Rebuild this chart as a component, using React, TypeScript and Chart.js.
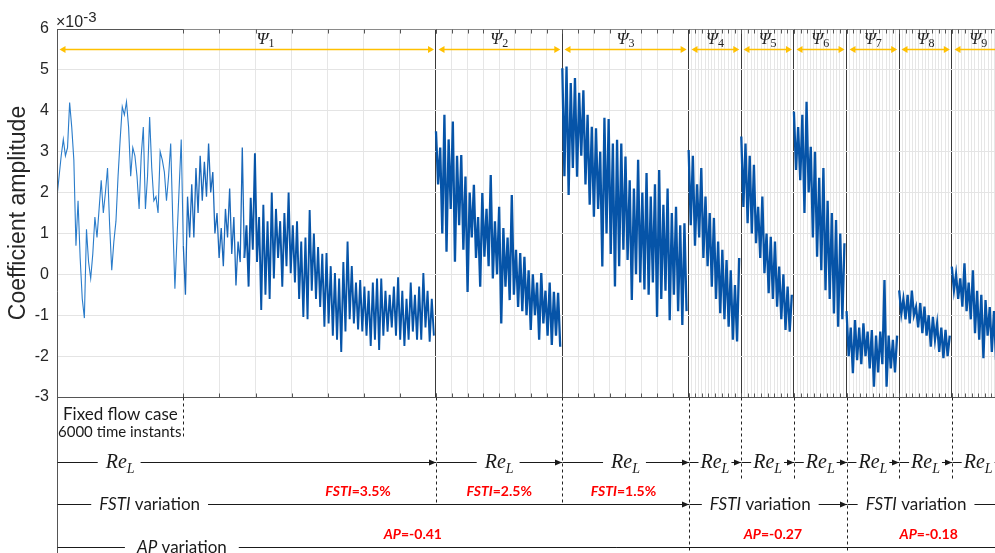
import React, { useEffect, useRef } from 'react';
import { Chart, registerables } from 'chart.js';
Chart.register(...registerables);

// ---------- data (time instants on x, coefficient ×10^-3 on y) ----------
const sampleStep = 100;
const xMax = 44550;
const yMin = -3;
const yMax = 6;

const segmentStarts = [0, 18000, 24000, 30000, 32500, 35000, 37500, 40000, 42500];
const segmentEnds = [18000, 24000, 30000, 32500, 35000, 37500, 40000, 42500, 45000];
const psiIndex = ['1', '2', '3', '4', '5', '6', '7', '8', '9'];
const psiLabelAt = [9900, 21000, 27000, 31250, 33750, 36250, 38750, 41250, 43750];
const fixedCaseEnd = 6000;

// Ψ1, fixed flow case (first 6000 instants)
const psi1a = [1.9, 2.4, 2.9, 3.3, 2.9, 3.1, 4.2, 3.6, 2.8, 0.7, 1.8, 0.4, -0.6, -1.07, 1.1, 0.3, -0.1, 0.5, 1.4, 0.9,
  1.6, 2.3, 1.5, 2.0, 2.6, 1.2, 0.1, 0.8, 1.3, 2.4, 3.3, 4.1, 3.9, 4.22, 3.6, 2.4, 3.1, 2.9, 2.4, 1.6,
  2.9, 3.6, 1.6, 2.4, 3.85, 2.6, 1.8, 1.9, 1.5, 3.0, 2.8, 2.5, 1.8, 2.4, 3.2, 1.3, -0.35, 0.9, 2.1, 3.3];
// Ψ1, varying Re_L part
const psi1b = [0.7, -0.5, 1.9, 0.9, 2.2, 0.9, 2.6, 1.5, 2.9, 1.8, 2.75, 1.9, 3.2, 2.0, 2.5, 1.0, 1.5, 0.4, 1.13, 0.2,
  1.6, 0.9, 2.1, 0.5, 1.4, -0.27, 0.8, 0.3, 3.1, 0.4, 1.2, -0.3, 1.87, 0.6, 2.96, 0.3, 1.4, -0.87, 1.7, -0.5,
  1.3, -0.6, 2.0, -0.1, 1.6, 0.4, 1.3, -0.3, 1.5, 0.2, 2.0, 0.03, 1.2, -0.2, 1.3, -0.6, 0.8, -1.04, 0.9, -1.1,
  1.57, -0.4, 1.0, -0.6, 0.67, -0.8, 0.5, -1.28, 0.52, -1.2, 0.2, -1.5, 0.03, -1.6, -0.1, -1.9, 0.3, -1.4, 0.8, -1.1,
  0.2, -1.2, -0.2, -1.35, -0.14, -1.4, -0.3, -1.5, -0.4, -1.75, -0.2, -1.6, -0.1, -1.85, -0.1, -1.5, -0.4, -1.4, -0.5, -1.3,
  -0.3, -1.5, -0.07, -1.6, -0.4, -1.75, -0.6, -1.6, -0.2, -1.4, -0.5, -1.6, -0.3, -1.6, 0.03, -1.3, -0.4, -1.65, -0.6, -1.5];
const psi2 = [3.5, 2.2, 3.1, 1.0, 3.9, 0.55, 3.3, 1.6, 3.74, 0.31, 2.9, 1.2, 2.92, 0.6, 2.39, -0.43, 2.0, 0.9, 2.19, 0.4,
  1.4, -0.3, 1.99, 0.43, 1.6, 0.2, 2.43, -0.1, 1.3, 0.0, 1.65, -1.2, 1.13, -0.3, 0.9, -0.63, 1.94, -0.5, 0.6, -0.8,
  0.52, -0.9, 0.43, -1.0, 0.1, -1.36, 0.0, -1.0, -0.2, -1.6, 0.03, -1.2, -0.4, -1.5, -0.2, -1.73, -0.43, -1.5, -0.45, -1.77];
const psi3 = [5.04, 2.4, 5.08, 1.94, 4.68, 2.6, 4.8, 2.39, 4.44, 2.9, 4.5, 2.2, 3.9, 1.7, 3.61, 1.41, 3.57, 1.6, 3.0, 0.19,
  3.83, 1.0, 3.8, 0.5, 3.2, -0.3, 3.29, 0.2, 3.2, 0.6, 2.88, 0.35, 2.3, -0.63, 2.1, 0.0, 2.8, -0.2, 2.0, -0.37,
  2.48, -0.5, 1.9, -0.2, 2.2, -1.04, 2.55, -0.6, 1.7, -0.4, 2.1, -1.12, 1.5, -0.5, 1.65, -0.9, 1.2, -1.24, 1.25, -0.9];
const psi4 = [3.04, 1.2, 2.9, 0.7, 2.2, 0.9, 2.6, 0.4, 1.9, 0.2, 1.5, -0.3, 1.38, -0.6, 0.8, -0.95, 0.6, -1.1, 0.35, -1.28, 0.1, -1.6, -0.26, -1.64, 0.4];
const psi5 = [3.37, 1.65, 3.2, 1.25, 2.9, 1.0, 2.68, 0.76, 1.65, 0.4, 1.9, 0.03, 1.0, -0.46, 0.92, -0.6, 0.8, -0.79, 0.19, -1.1, 0.0, -1.36, -0.3, -1.4, -0.5];
const psi6 = [3.98, 2.55, 3.6, 2.3, 3.9, 1.5, 4.22, 2.0, 3.12, 0.9, 3.0, 0.43, 2.36, 0.1, 2.6, -0.39, 1.8, -0.6, 1.5, -0.96, 1.33, -1.28, 1.0, -1.1, 0.76];
const psi7 = [-0.9, -2.0, -1.3, -2.42, -1.12, -2.1, -1.3, -2.2, -1.2, -2.0, -1.4, -2.3, -1.36, -2.75, -1.5, -2.4, -1.4, -2.2, -0.14, -2.75, -1.5, -2.3, -1.6, -2.4, -1.5];
const psi8 = [-0.39, -0.96, -0.6, -1.1, -0.5, -1.2, -0.4, -1.0, -0.8, -1.3, -0.7, -1.44, -0.79, -1.5, -1.0, -1.77, -1.04, -1.6, -1.2, -1.9, -1.3, -2.05, -1.36, -2.0, -1.5];
const psi9 = [0.19, -0.39, 0.0, -0.6, -0.1, -0.79, 0.27, -0.9, -0.2, -1.1, 0.1, -1.44, -0.4, -1.6, -0.5, -2.05, -0.63, -1.5, -0.8, -1.9, -0.9, -2.1];

// each series piece: values and the time instant of its first sample
const psi1bSparseCount = 30;
const seriesValues = [
  psi1a.concat(psi1b.slice(0, 1)),
  psi1b.slice(0, psi1bSparseCount),
  psi1b.slice(psi1bSparseCount - 1),
  psi2, psi3, psi4, psi5, psi6, psi7, psi8, psi9,
];
const seriesStarts = [0, fixedCaseEnd, fixedCaseEnd + (psi1bSparseCount - 1) * sampleStep, 18000, 24000, 30000, 32500, 35000, 37500, 40000, 42500];

// bottom annotation content
const reLCenters = [3000, 21000, 27000, 31250, 33750, 36250, 38750, 41250, 43750];
const fstiSpans = [[0, 30000], [30000, 37500], [37500, 45000]];
const fstiTextAt = [4400, 33400, 40800];
const fstiValues = ['3.5%', '2.5%', '1.5%'];
const fstiValueAt = [14300, 21000, 26900];
const apValues = ['-0.41', '-0.27', '-0.18'];
const apValueAt = [16900, 34000, 41400];
const apTextAt = [5930];

// grid / tick positions (segment subdivisions)
function subdivisions(a: number, b: number, n: number) {
  const out: number[] = [];
  for (let k = 0; k <= n; k++) out.push(a + ((b - a) * k) / n);
  return out;
}
const majorTickValues: number[] = [
  ...subdivisions(fixedCaseEnd, 18000, 7),
  ...subdivisions(18000, 24000, 8),
  ...subdivisions(24000, 30000, 8),
  ...segmentStarts.slice(3).flatMap((s, i) => subdivisions(s, segmentEnds[i + 3], 8)),
];
const gridValues: number[] = [
  0,
  ...subdivisions(fixedCaseEnd, 18000, 7),
  ...subdivisions(18000, 24000, 8),
  ...subdivisions(24000, 30000, 8),
  ...segmentStarts.slice(3).flatMap((s, i) => subdivisions(s, segmentEnds[i + 3], 16)),
].filter((v, i, arr) => v <= xMax && arr.indexOf(v) === i).sort((a, b) => a - b);
const boundarySet = new Set(segmentStarts.slice(1));

const LINE_COLOR = '#0654a8';
const THIN_COLOR = '#2a7cca';
const AXIS_COLOR = '#262626';
const SERIF = '"Liberation Serif", "DejaVu Serif", serif';
const SANS = 'Lato, "Open Sans", sans-serif';
const ARIAL = '"Liberation Sans", Arial, sans-serif';

type Run = { t: string; f: string; dy?: number };
function runsWidth(ctx: CanvasRenderingContext2D, runs: Run[]) {
  let w = 0;
  for (const r of runs) { ctx.font = r.f; w += ctx.measureText(r.t).width; }
  return w;
}
function drawRuns(ctx: CanvasRenderingContext2D, runs: Run[], left: number, baseline: number) {
  let x = left;
  for (const r of runs) {
    ctx.font = r.f;
    ctx.fillText(r.t, x, baseline + (r.dy || 0));
    x += ctx.measureText(r.t).width;
  }
}
function hline(ctx: CanvasRenderingContext2D, x1: number, x2: number, y: number) {
  ctx.beginPath(); ctx.moveTo(x1, y); ctx.lineTo(x2, y); ctx.stroke();
}
function vline(ctx: CanvasRenderingContext2D, x: number, y1: number, y2: number) {
  ctx.beginPath(); ctx.moveTo(x, y1); ctx.lineTo(x, y2); ctx.stroke();
}
function head(ctx: CanvasRenderingContext2D, x: number, y: number, dir: number, len: number, half: number) {
  ctx.beginPath(); ctx.moveTo(x, y); ctx.lineTo(x - dir * len, y - half); ctx.lineTo(x - dir * len, y + half); ctx.closePath(); ctx.fill();
}

const annotationPlugin = {
  id: 'annotations',
  afterDraw(chart: any) {
    const ctx: CanvasRenderingContext2D = chart.ctx;
    const xs = chart.scales.x;
    const area = chart.chartArea;
    const H = chart.height;
    const px = (v: number) => Math.round(xs.getPixelForValue(v)) + 0.5;
    const right = area.right;
    const top = Math.round(area.top) + 0.5;
    const bot = Math.round(area.bottom) + 0.5;
    ctx.save();
    ctx.lineWidth = 1;

    // frame
    ctx.strokeStyle = '#8a8a8a';
    hline(ctx, area.left, right, top);
    ctx.strokeStyle = '#555';
    hline(ctx, area.left, px(fixedCaseEnd), top);
    hline(ctx, area.left, right, bot);
    vline(ctx, px(0), top, H);
    // tick marks (inside)
    ctx.strokeStyle = '#555';
    for (const v of majorTickValues) {
      if (v > xMax) continue;
      const x = px(v);
      vline(ctx, x, top, top + 4);
      vline(ctx, x, bot, bot - 4);
    }

    // yellow double arrows + Ψ labels
    ctx.strokeStyle = '#ffc000';
    ctx.fillStyle = '#ffc000';
    ctx.lineWidth = 1.5;
    const ay = 49.5;
    segmentStarts.forEach((s, i) => {
      const x1 = px(s) + 2;
      const xe = xs.getPixelForValue(segmentEnds[i]);
      const x2 = Math.min(xe - 2, right);
      hline(ctx, x1 + 4, x2 - (xe <= right ? 4 : 0), ay);
      head(ctx, x1, ay, -1, 6, 3.5);
      if (xe <= right) head(ctx, x2, ay, 1, 6, 3.5);
    });
    ctx.fillStyle = '#222';
    segmentStarts.forEach((_, i) => {
      const runs: Run[] = [{ t: 'Ψ', f: `italic 17px ${SERIF}` }, { t: psiIndex[i], f: `12px ${SERIF}`, dy: 3 }];
      const w = runsWidth(ctx, runs);
      drawRuns(ctx, runs, xs.getPixelForValue(psiLabelAt[i]) - w / 2, 44);
    });

    // exponent label
    ctx.fillStyle = AXIS_COLOR;
    drawRuns(ctx, [{ t: '×10', f: `16px ${ARIAL}` }, { t: '-3', f: `15px ${ARIAL}`, dy: -5 }], area.left - 1, 27);

    // ----- bottom annotations -----
    ctx.lineWidth = 1;
    ctx.strokeStyle = '#222';
    ctx.setLineDash([3, 3]);
    vline(ctx, px(fixedCaseEnd), bot, 438);
    [18000, 24000].forEach((v) => vline(ctx, px(v), bot, 505));
    [30000, 37500].forEach((v) => vline(ctx, px(v), bot, H));
    [32500, 35000, 40000, 42500].forEach((v) => vline(ctx, px(v), bot, 481));
    ctx.setLineDash([]);

    ctx.fillStyle = '#1a1a1a';
    ctx.font = `17px ${SANS}`;
    ctx.fillText('Fixed flow case', area.left + 6, 420);
    ctx.font = `15px ${SANS}`;
    ctx.fillText('6000 time instants', area.left + 1, 437);

    // Re_L row
    ctx.strokeStyle = '#1a1a1a';
    ctx.fillStyle = '#1a1a1a';
    const ry = 462.5;
    const reRuns: Run[] = [{ t: 'Re', f: `italic 20px ${SERIF}` }, { t: 'L', f: `italic 14px ${SERIF}`, dy: 5 }];
    segmentStarts.forEach((s, i) => {
      const x1 = px(s);
      const xe = xs.getPixelForValue(segmentEnds[i]);
      const x2 = Math.min(Math.round(xe), right);
      const w = runsWidth(ctx, reRuns);
      const c = xs.getPixelForValue(reLCenters[i]);
      const gl = i < 3 ? 8 : 2;
      const gr = i < 3 ? 6 : 2;
      hline(ctx, x1, c - w / 2 - gl, ry);
      drawRuns(ctx, reRuns, c - w / 2, 468);
      hline(ctx, c + w / 2 + gr, x2, ry);
      if (xe <= right) head(ctx, x2, ry, 1, 7, 3);
    });

    // FSTI row
    const fy = 504.5;
    const fRuns: Run[] = [{ t: 'FSTI', f: `italic 17px ${SANS}` }, { t: ' variation', f: `17px ${SANS}` }];
    fstiSpans.forEach(([a, b], i) => {
      const x1 = px(a);
      const xe = xs.getPixelForValue(b);
      const x2 = Math.min(Math.round(xe), right);
      const w = runsWidth(ctx, fRuns);
      const c = xs.getPixelForValue(fstiTextAt[i]);
      hline(ctx, x1, c - w / 2 - 8, fy);
      drawRuns(ctx, fRuns, c - w / 2, 510);
      hline(ctx, c + w / 2 + 8, x2, fy);
      if (xe <= right) head(ctx, x2, fy, 1, 7, 3);
    });

    // AP row
    const apy = 547.5;
    const apRuns: Run[] = [{ t: 'AP', f: `italic 17px ${SANS}` }, { t: ' variation', f: `17px ${SANS}` }];
    const aw = runsWidth(ctx, apRuns);
    const ac = xs.getPixelForValue(apTextAt[0]);
    hline(ctx, px(0), ac - aw / 2 - 12, apy);
    drawRuns(ctx, apRuns, ac - aw / 2, 553);
    hline(ctx, ac + aw / 2 + 12, right, apy);

    // red values
    ctx.fillStyle = '#ff0000';
    fstiValues.forEach((v, i) => {
      const runs: Run[] = [{ t: 'FSTI', f: `italic bold 14px ${SANS}` }, { t: '=' + v, f: `bold 14px ${SANS}` }];
      const w = runsWidth(ctx, runs);
      drawRuns(ctx, runs, xs.getPixelForValue(fstiValueAt[i]) - w / 2, 496);
    });
    apValues.forEach((v, i) => {
      const runs: Run[] = [{ t: 'AP', f: `italic bold 14px ${SANS}` }, { t: '=' + v, f: `bold 14px ${SANS}` }];
      const w = runsWidth(ctx, runs);
      drawRuns(ctx, runs, xs.getPixelForValue(apValueAt[i]) - w / 2, 539);
    });
    ctx.restore();
  },
};

export default function App() {
  const ref = useRef<HTMLCanvasElement>(null);
  useEffect(() => {
    const canvas = ref.current!;
    const widths = [1.1, 1.3, 1.9, 2.3, 2.3, 2.3, 2.3, 2.3, 2.3, 2.3, 2.3];
    const colors = [THIN_COLOR, '#1a68ba', LINE_COLOR, LINE_COLOR, LINE_COLOR, LINE_COLOR, LINE_COLOR, LINE_COLOR, LINE_COLOR, LINE_COLOR, LINE_COLOR];
    const datasets = seriesValues.map((vals, i) => ({
      data: vals.map((v, k) => ({ x: seriesStarts[i] + k * sampleStep, y: v })),
      borderColor: colors[i],
      borderWidth: widths[i],
      borderJoinStyle: 'miter',
      pointRadius: 0,
      tension: 0,
      fill: false,
    }));
    const chart = new Chart(canvas, {
      type: 'line',
      data: { datasets },
      options: {
        responsive: false,
        animation: false,
        devicePixelRatio: 1,
        layout: { padding: { top: 29, bottom: 156, left: 0, right: 0 } },
        plugins: { legend: { display: false }, tooltip: { enabled: false } },
        scales: {
          x: {
            type: 'linear',
            min: 0,
            max: xMax,
            afterBuildTicks: (s: any) => { s.ticks = gridValues.map((v) => ({ value: v })); },
            afterFit: (s: any) => { s.height = 0; },
            ticks: { display: false },
            grid: {
              color: (c: any) => (c.tick && boundarySet.has(c.tick.value) ? '#3a3a3a' : '#e6e6e6'),
              drawTicks: false,
              lineWidth: 1,
            },
            border: { display: false },
          },
          y: {
            min: yMin,
            max: yMax,
            afterFit: (s: any) => { s.width = 57; },
            ticks: { stepSize: 1, color: AXIS_COLOR, font: { family: ARIAL, size: 16 }, padding: 8 },
            grid: { color: '#e4e4e4', drawTicks: false },
            border: { display: false },
            title: {
              display: true,
              text: 'Coefficient amplitude',
              color: AXIS_COLOR,
              font: { family: ARIAL, size: 23 },
              padding: { top: 5, bottom: 0 },
            },
          },
        },
      } as any,
      plugins: [annotationPlugin],
    });
    return () => chart.destroy();
  }, []);
  return (
    <div style={{ position: 'absolute', left: 0, top: 0, width: 995, height: 553, background: '#fff' }}>
      <canvas ref={ref} width={995} height={553} style={{ display: 'block' }} />
    </div>
  );
}
